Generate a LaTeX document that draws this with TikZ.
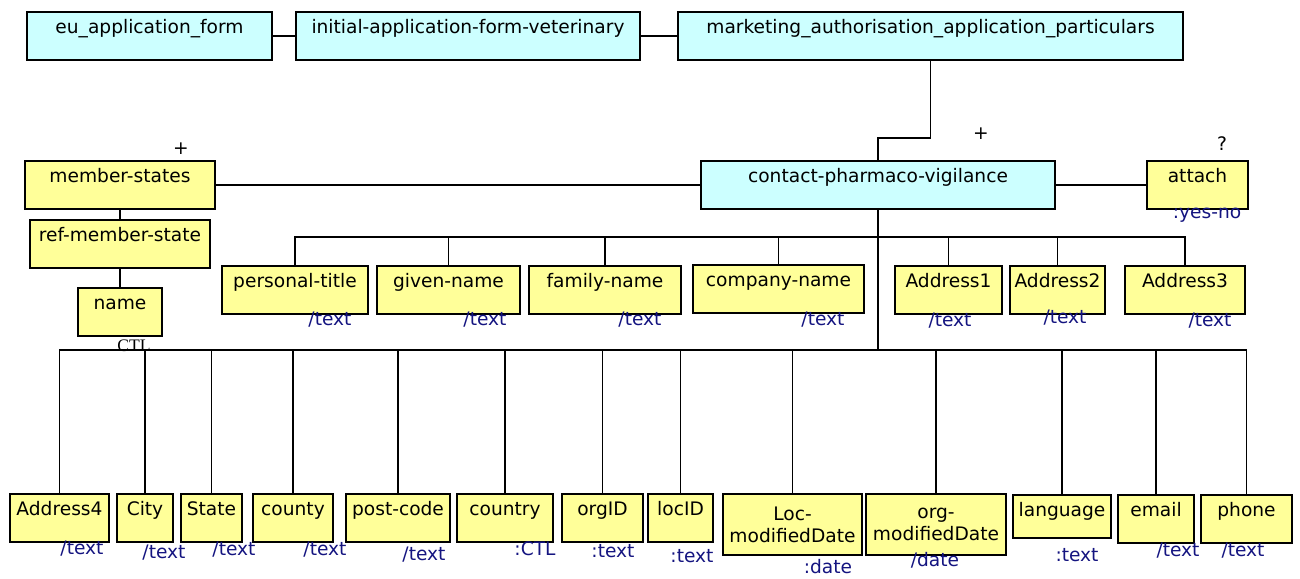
\documentclass[tikz,border=0pt]{standalone}
\usepackage{fontspec}
\setmainfont{DejaVu Sans}
\newfontfamily\ctlfont{Liberation Serif}
\usetikzlibrary{positioning}
\definecolor{mycyan}{RGB}{204,255,255}
\definecolor{myyellow}{RGB}{255,255,153}
\definecolor{mynavy}{RGB}{20,20,128}
\newcommand{\boxfont}{\fontsize{10.6pt}{12.6pt}\selectfont}
\tikzset{
  cblock/.style={rectangle, draw=black, fill=mycyan, anchor=north,
    font=\boxfont, inner xsep=1pt, inner ysep=4.2pt, text height=8pt,
    text depth=10.8pt, line width=1.1pt},
  yblock/.style={rectangle, draw=black, fill=myyellow, anchor=north,
    font=\boxfont, inner xsep=1pt, inner ysep=4.2pt, text height=8pt,
    text depth=10.8pt, line width=1.1pt},
  y2block/.style={rectangle, draw=black, fill=myyellow, anchor=north,
    font=\boxfont, align=center, inner sep=1pt, minimum height=1.22cm,
    line width=1.1pt},
  typelabel/.style={text=mynavy, font=\boxfont, inner sep=0pt},
  sign/.style={text=black, font=\boxfont, inner sep=0pt},
  line/.style={line width=1pt, color=black},
  trunk/.style={line width=1.6pt, color=black}
}

\begin{document}
\begin{tikzpicture}[x=0.02cm, y=-0.02cm]
  \useasboundingbox (0,0) rectangle (1300,578);
  % top chain
  \node[cblock, minimum width=4.9cm] (euform) at (149.5,11) {eu\_application\_form};
  \node[cblock, minimum width=6.88cm] (initform) at (468,11) {initial-application-form-veterinary};
  \node[cblock, minimum width=10.1cm] (mapp) at (930.5,11) {marketing\_authorisation\_application\_particulars};
  \node[cblock, minimum width=7.08cm] (contact) at (878,160) {contact-pharmaco-vigilance};
  \node[yblock, minimum width=2.02cm] (attach) at (1197.5,160) {attach};
  \node[yblock, minimum width=3.8cm] (mstates) at (120,160) {member-states};
  \node[yblock, minimum width=3.6cm] (refms) at (120,219) {ref-member-state};
  \node[yblock, minimum width=1.68cm] (name) at (120,287) {name};
  % first row of children
  \node[yblock, minimum width=2.92cm] (ptitle) at (295,265) {personal-title};
  \node[yblock, minimum width=2.86cm] (gname) at (448.5,265) {given-name};
  \node[yblock, minimum width=3.04cm] (fname) at (605,265) {family-name};
  \node[yblock, minimum width=3.42cm] (cname) at (778.5,264) {company-name};
  \node[yblock, minimum width=2.14cm] (addr1) at (948.5,265) {Address1};
  \node[yblock, minimum width=1.9cm] (addr2) at (1057.5,265) {Address2};
  \node[yblock, minimum width=2.4cm] (addr3) at (1185,265) {Address3};
  % second row of children
  \node[yblock, minimum width=1.98cm] (addr4) at (59.5,493) {Address4};
  \node[yblock, minimum width=1.12cm] (city) at (145,493) {City};
  \node[yblock, minimum width=1.22cm] (state) at (211.5,493) {State};
  \node[yblock, minimum width=1.6cm] (county) at (293,493) {county};
  \node[yblock, minimum width=2.08cm] (postcode) at (398,493) {post-code};
  \node[yblock, minimum width=1.92cm] (country) at (505,493) {country};
  \node[yblock, minimum width=1.62cm] (orgid) at (602.5,493) {orgID};
  \node[yblock, minimum width=1.3cm] (locid) at (680.5,493) {locID};
  \node[y2block, minimum width=2.78cm] (locmod) at (792.5,493) {Loc-\\modifiedDate};
  \node[y2block, minimum width=2.8cm] (orgmod) at (936,493) {org-\\modifiedDate};
  \node[yblock, minimum width=1.96cm, text depth=8pt] (language) at (1062,494) {language};
  \node[yblock, minimum width=1.52cm] (email) at (1156,494) {email};
  \node[yblock, minimum width=1.82cm] (phone) at (1246.5,494) {phone};
  % occurrence signs and types
  \node[sign] (plusms) at (181,149) {+};
  \node[sign] (pluscp) at (981,134) {+};
  \node[sign] (optat) at (1222,144) {?};
  \node[sign, font=\ctlfont\fontsize{10pt}{12pt}\selectfont] (ctlname) at (134,346) {CTL};
  \node[typelabel] (tattach) at (1207,215) {:yes-no};
  \node[typelabel] (tptitle) at (330,320) {/text};
  \node[typelabel] (tgname) at (485,320) {/text};
  \node[typelabel] (tfname) at (640,320) {/text};
  \node[typelabel] (tcname) at (823,320) {/text};
  \node[typelabel] (taddr1) at (950,321) {/text};
  \node[typelabel] (taddr2) at (1065,318) {/text};
  \node[typelabel] (taddr3) at (1210,321) {/text};
  \node[typelabel] (taddr4) at (82,549) {/text};
  \node[typelabel] (tcity) at (164,553) {/text};
  \node[typelabel] (tstate) at (234,550) {/text};
  \node[typelabel] (tcounty) at (325,550) {/text};
  \node[typelabel] (tpostcode) at (424,555) {/text};
  \node[typelabel] (tcountry) at (535,549) {:CTL};
  \node[typelabel] (torgid) at (613,551) {:text};
  \node[typelabel] (tlocid) at (692,556) {:text};
  \node[typelabel] (tlocmod) at (828,567) {:date};
  \node[typelabel] (torgmod) at (935,560) {/date};
  \node[typelabel] (tlanguage) at (1077,555) {:text};
  \node[typelabel] (temail) at (1178,551) {/text};
  \node[typelabel] (tphone) at (1243,551) {/text};
  % connectors
  \coordinate (bus1) at (0,237);
  \coordinate (bus2) at (0,350);
  \draw[line] (euform) -- (initform);
  \draw[line] (initform) -- (mapp);
  \draw[line] (mapp.south) -- ++(0,77) -| (contact.north);
  \draw[line] (mstates) -- (contact);
  \draw[line] (contact) -- (attach);
  \draw[line] (mstates) -- (refms);
  \draw[line] (refms) -- (name);
  \draw[trunk] (contact.south) -- (contact.south |- bus2);
  \draw[line] (contact.south |- bus1) -| (ptitle.north);
  \draw[line] (contact.south |- bus1) -| (gname.north);
  \draw[line] (contact.south |- bus1) -| (fname.north);
  \draw[line] (contact.south |- bus1) -| (cname.north);
  \draw[line] (contact.south |- bus1) -| (addr1.north);
  \draw[line] (contact.south |- bus1) -| (addr2.north);
  \draw[line] (contact.south |- bus1) -| (addr3.north);
  \draw[line] (contact.south |- bus2) -| (addr4.north);
  \draw[line] (contact.south |- bus2) -| (city.north);
  \draw[line] (contact.south |- bus2) -| (state.north);
  \draw[line] (contact.south |- bus2) -| (county.north);
  \draw[line] (contact.south |- bus2) -| (postcode.north);
  \draw[line] (contact.south |- bus2) -| (country.north);
  \draw[line] (contact.south |- bus2) -| (orgid.north);
  \draw[line] (contact.south |- bus2) -| (locid.north);
  \draw[line] (contact.south |- bus2) -| (locmod.north);
  \draw[line] (contact.south |- bus2) -| (orgmod.north);
  \draw[line] (contact.south |- bus2) -| (language.north);
  \draw[line] (contact.south |- bus2) -| (email.north);
  \draw[line] (contact.south |- bus2) -| (phone.north);
\end{tikzpicture}
\end{document}
